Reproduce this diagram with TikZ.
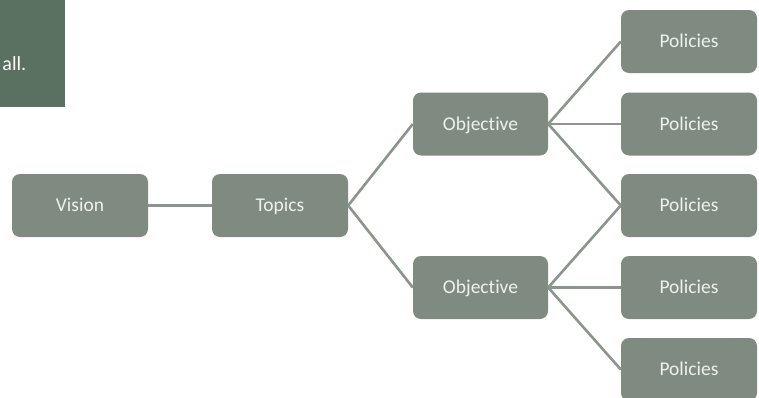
\documentclass[tikz,border=0pt]{standalone}
\usepackage{fontspec}
\setmainfont[Ligatures=NoCommon]{Carlito}
\definecolor{darkgreen}{HTML}{5A7060}
\definecolor{boxfill}{HTML}{7F8B80}
\definecolor{linecol}{HTML}{8A958B}
\definecolor{txtcol}{HTML}{EEF1EE}
\begin{document}
\begin{tikzpicture}[x=1pt,y=-1pt,
  box/.style={fill=boxfill, rounded corners=8pt, minimum width=136pt, minimum height=63pt, inner sep=0pt, text=txtcol, font=\fontsize{19.5}{21}\selectfont, text height=12.5pt, text depth=0pt},
  conn/.style={draw=linecol, line width=2.6pt}]
\useasboundingbox (0,0) rectangle (759,397);
\fill[darkgreen] (0,0) rectangle (65,107);
\node[anchor=base east, inner sep=0pt, text=white, font=\fontsize{20}{22}\selectfont] (note) at (26.5,70) {all.};
\node[box] (vision) at (80,205.5) {Vision};
\node[box] (topics) at (280,205.5) {Topics};
\node[box, minimum width=135pt] (obj1) at (480.5,124) {Objective};
\node[box, minimum width=135pt] (obj2) at (480.5,287.5) {Objective};
\node[box] (p1) at (689,41.5) {Policies};
\node[box] (p2) at (689,124) {Policies};
\node[box] (p3) at (689,205.5) {Policies};
\node[box] (p4) at (689,287.5) {Policies};
\node[box] (p5) at (689,369.5) {Policies};
\draw[conn] (vision.east) -- (topics.west);
\draw[conn] (topics.east) -- (obj1.west);
\draw[conn] (topics.east) -- (obj2.west);
\draw[conn] (obj1.east) -- (p1.west);
\draw[conn] (obj1.east) -- (p2.west);
\draw[conn] (obj1.east) -- (p3.west);
\draw[conn] (obj2.east) -- (p3.west);
\draw[conn] (obj2.east) -- (p4.west);
\draw[conn] (obj2.east) -- (p5.west);
\end{tikzpicture}
\end{document}
